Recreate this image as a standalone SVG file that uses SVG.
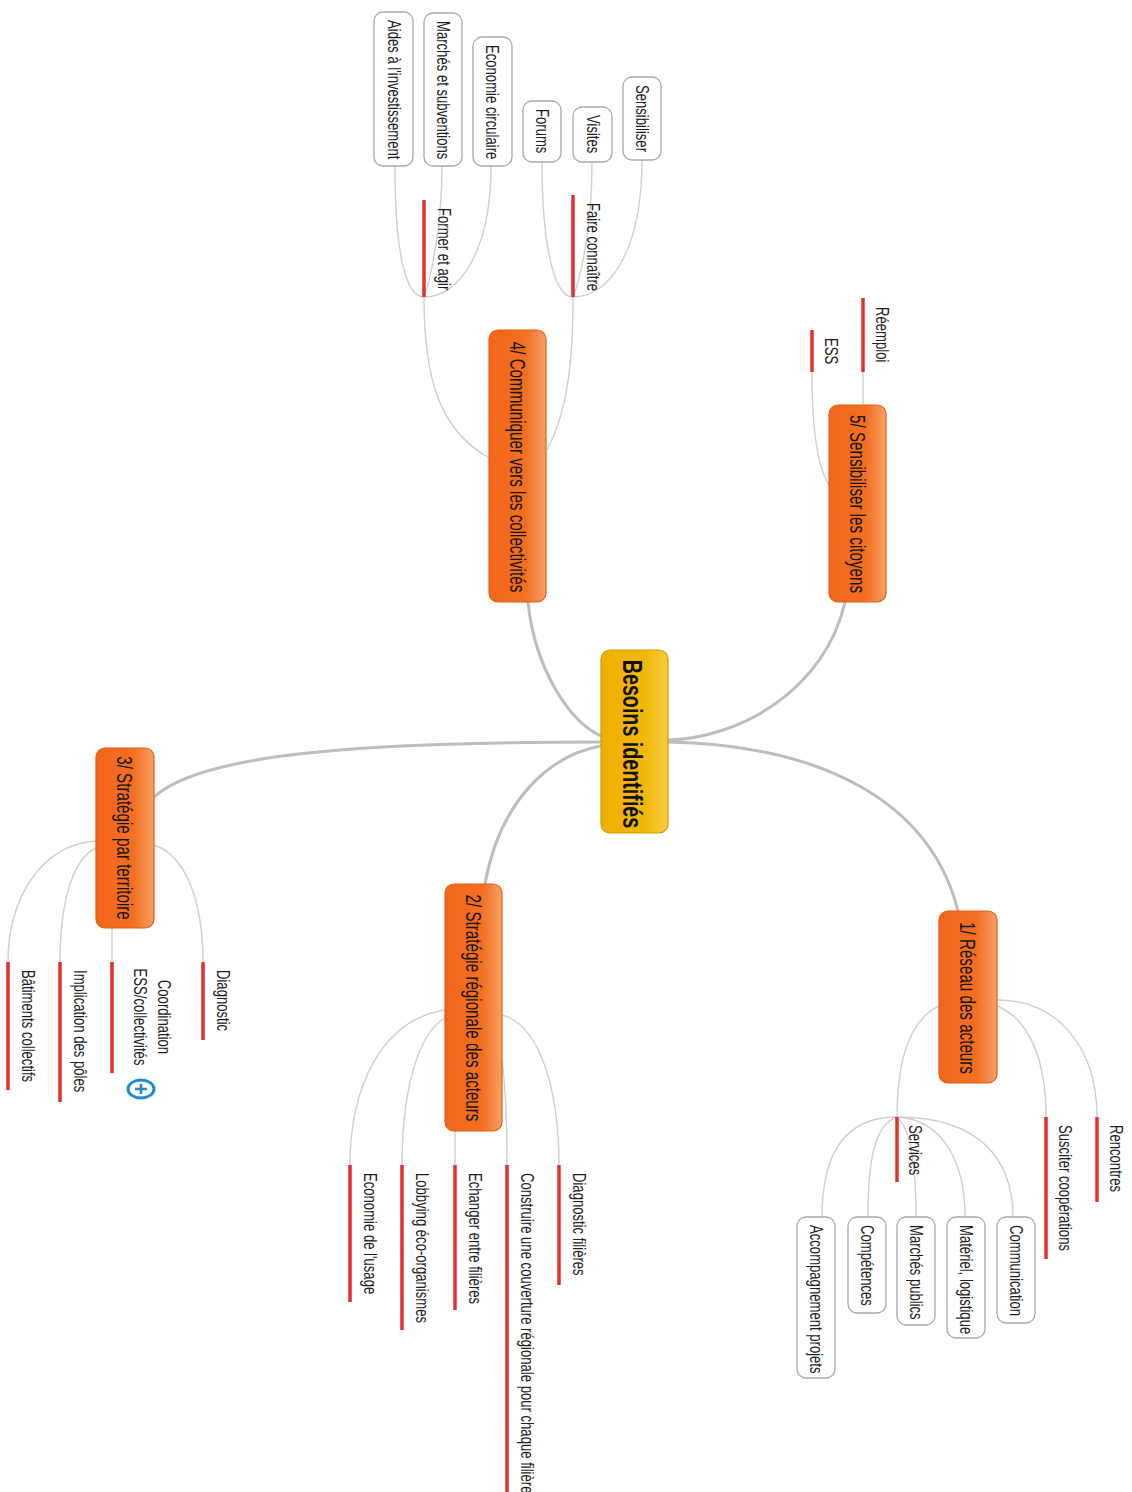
<svg xmlns="http://www.w3.org/2000/svg" width="1132" height="1492" viewBox="0 0 1132 1492">
<defs>
<linearGradient id="gOr" x1="0" y1="0" x2="1" y2="0">
<stop offset="0" stop-color="#f2661a"/>
<stop offset="0.65" stop-color="#f36f22"/>
<stop offset="1" stop-color="#f8a066"/>
</linearGradient>
<linearGradient id="gGo" x1="0" y1="0" x2="1" y2="0">
<stop offset="0" stop-color="#eeb000"/>
<stop offset="0.65" stop-color="#f1b808"/>
<stop offset="1" stop-color="#f8cc40"/>
</linearGradient>
</defs>
<style>
.main{fill:none;stroke:#bdbdbd;stroke-width:3;stroke-linecap:round}
.thin{fill:none;stroke:#cfcfcf;stroke-width:1.4}
.bar{stroke:#e2302c;stroke-width:3.5}
.box{fill:url(#gOr);stroke:#e35f16;stroke-width:1.2}
.ctr{fill:url(#gGo);stroke:#d49c00;stroke-width:1.2}
.bub{fill:#ffffff;stroke:#a9a9a9;stroke-width:1.3}
text{font-family:"Liberation Sans",Arial,sans-serif;fill:#1e1e1e}
.t{font-size:19px}
.bt{font-size:22px;fill:#151515;text-anchor:middle}
.ct{font-size:27px;font-weight:bold;fill:#111;text-anchor:middle}
.m{text-anchor:middle}
</style>
<rect width="1132" height="1492" fill="#ffffff"/>

<g id="connectors">
<path class="main" d="M528,602 C535,670 570,722 601,736"/>
<path class="main" d="M845,602 C825,690 740,738 668,740"/>
<path class="main" d="M601,742 C350,742 200,755 154,797"/>
<path class="main" d="M485,884 C500,800 550,755 601,746"/>
<path class="main" d="M668,742 C820,745 930,800 958,911"/>

<path class="thin" d="M489,458 C440,430 424,380 424,297"/>
<path class="thin" d="M547,450 C568,410 573,360 573,297"/>
<path class="thin" d="M395,166 C395,250 405,297 424,297"/>
<path class="thin" d="M442,166 C442,230 430,280 424,297"/>
<path class="thin" d="M491,166 C491,250 460,297 424,297"/>
<path class="thin" d="M542,162 C542,250 555,297 573,297"/>
<path class="thin" d="M592,162 C592,230 580,280 573,297"/>
<path class="thin" d="M642,160 C642,250 610,297 573,297"/>

<path class="thin" d="M863,372 L863,405"/>
<path class="thin" d="M812,372 C812,430 818,468 829,485"/>

<path class="thin" d="M96,841 C40,845 8,900 8,962"/>
<path class="thin" d="M96,848 C70,860 60,910 60,962"/>
<path class="thin" d="M112,928 L112,962"/>
<path class="thin" d="M154,845 C185,855 203,900 203,962"/>

<path class="thin" d="M445,1010 C380,1020 350,1090 350,1165"/>
<path class="thin" d="M445,1018 C415,1035 402,1100 402,1165"/>
<path class="thin" d="M455,1131 L455,1165"/>
<path class="thin" d="M502,1060 C506,1090 507,1120 507,1165"/>
<path class="thin" d="M502,1015 C540,1025 559,1090 559,1165"/>

<path class="thin" d="M997,1000 C1060,1000 1097,1050 1097,1117"/>
<path class="thin" d="M997,1006 C1030,1020 1046,1060 1046,1117"/>
<path class="thin" d="M939,1006 C910,1020 897,1060 897,1117"/>

<path class="thin" d="M897,1117 C840,1117 822,1160 822,1217"/>
<path class="thin" d="M897,1117 C872,1125 868,1170 868,1217"/>
<path class="thin" d="M897,1117 C912,1130 916,1170 916,1217"/>
<path class="thin" d="M897,1117 C945,1120 965,1165 965,1217"/>
<path class="thin" d="M897,1117 C980,1117 1013,1160 1013,1217"/>
</g>

<g id="center">
<rect class="ctr" x="601" y="650" width="67" height="183" rx="9"/>
<text class="ct" transform="translate(623,744) rotate(90) scale(0.73,1)">Besoins identifiés</text>
</g>

<g id="n4">
<rect class="box" x="489" y="330" width="57" height="272" rx="9"/>
<text class="bt" transform="translate(510,467) rotate(90) scale(0.69,1)">4/ Communiquer vers les collectivités</text>
</g>
<g id="n5">
<rect class="box" x="829" y="405" width="57" height="197" rx="9"/>
<text class="bt" transform="translate(850,504) rotate(90) scale(0.69,1)">5/ Sensibiliser les citoyens</text>
</g>
<g id="n3">
<rect class="box" x="96" y="748" width="58" height="180" rx="9"/>
<text class="bt" transform="translate(117,838) rotate(90) scale(0.69,1)">3/ Stratégie par territoire</text>
</g>
<g id="n2">
<rect class="box" x="445" y="884" width="57" height="247" rx="9"/>
<text class="bt" transform="translate(466,1008) rotate(90) scale(0.69,1)">2/ Stratégie régionale des acteurs</text>
</g>
<g id="n1">
<rect class="box" x="939" y="911" width="58" height="172" rx="9"/>
<text class="bt" transform="translate(960,998) rotate(90) scale(0.69,1)">1/ Réseau des acteurs</text>
</g>

<g id="n4a">
<line class="bar" x1="424" y1="200" x2="424" y2="297"/>
<text class="t" transform="translate(438,208) rotate(90) scale(0.69,1)">Former et agir</text>
</g>
<g id="n4b">
<line class="bar" x1="573" y1="195" x2="573" y2="297"/>
<text class="t" transform="translate(587,203) rotate(90) scale(0.69,1)">Faire connaître</text>
</g>
<g id="n4a1">
<rect class="bub" x="374" y="12" width="39" height="154" rx="9"/>
<text class="t" transform="translate(388,20) rotate(90) scale(0.69,1)">Aides à l'investissement</text>
</g>
<g id="n4a2">
<rect class="bub" x="424" y="13" width="38" height="153" rx="9"/>
<text class="t" transform="translate(437,21) rotate(90) scale(0.69,1)">Marchés et subventions</text>
</g>
<g id="n4a3">
<rect class="bub" x="473" y="37" width="39" height="129" rx="9"/>
<text class="t" transform="translate(486,45) rotate(90) scale(0.69,1)">Economie circulaire</text>
</g>
<g id="n4b1">
<rect class="bub" x="523" y="101" width="38" height="61" rx="9"/>
<text class="t" transform="translate(536,109) rotate(90) scale(0.69,1)">Forums</text>
</g>
<g id="n4b2">
<rect class="bub" x="573" y="107" width="39" height="55" rx="9"/>
<text class="t" transform="translate(587,115) rotate(90) scale(0.69,1)">Visites</text>
</g>
<g id="n4b3">
<rect class="bub" x="623" y="77" width="38" height="83" rx="9"/>
<text class="t" transform="translate(636,85) rotate(90) scale(0.69,1)">Sensibiliser</text>
</g>

<g id="n5a">
<line class="bar" x1="863" y1="298" x2="863" y2="372"/>
<text class="t" transform="translate(876,307) rotate(90) scale(0.69,1)">Réemploi</text>
</g>
<g id="n5b">
<line class="bar" x1="812" y1="330" x2="812" y2="372"/>
<text class="t" transform="translate(825,338) rotate(90) scale(0.69,1)">ESS</text>
</g>

<g id="n3a">
<line class="bar" x1="8" y1="962" x2="8" y2="1090"/>
<text class="t" transform="translate(22,970) rotate(90) scale(0.69,1)">Bâtiments collectifs</text>
</g>
<g id="n3b">
<line class="bar" x1="60" y1="962" x2="60" y2="1102"/>
<text class="t" transform="translate(74,970) rotate(90) scale(0.69,1)">Implication des pôles</text>
</g>
<g id="n3c">
<line class="bar" x1="112" y1="962" x2="112" y2="1073"/>
<text class="t m" transform="translate(158,1017) rotate(90) scale(0.69,1)">Coordination</text>
<text class="t m" transform="translate(134,1017) rotate(90) scale(0.69,1)">ESS/collectivités</text>
<ellipse cx="141" cy="1089" rx="13" ry="9" fill="#ffffff" stroke="#1e8ad2" stroke-width="3"/>
<path d="M135,1089 H147 M141,1084 V1094" stroke="#1e8ad2" stroke-width="2.6"/>
</g>
<g id="n3d">
<line class="bar" x1="203" y1="962" x2="203" y2="1040"/>
<text class="t" transform="translate(217,970) rotate(90) scale(0.69,1)">Diagnostic</text>
</g>

<g id="n2a">
<line class="bar" x1="350" y1="1165" x2="350" y2="1302"/>
<text class="t" transform="translate(364,1173) rotate(90) scale(0.69,1)">Economie de l'usage</text>
</g>
<g id="n2b">
<line class="bar" x1="402" y1="1165" x2="402" y2="1330"/>
<text class="t" transform="translate(416,1173) rotate(90) scale(0.69,1)">Lobbying éco-organismes</text>
</g>
<g id="n2c">
<line class="bar" x1="455" y1="1165" x2="455" y2="1310"/>
<text class="t" transform="translate(469,1173) rotate(90) scale(0.69,1)">Echanger entre filières</text>
</g>
<g id="n2d">
<line class="bar" x1="507" y1="1165" x2="507" y2="1492"/>
<text class="t" transform="translate(521,1173) rotate(90) scale(0.69,1)">Construire une couverture régionale pour chaque filière</text>
</g>
<g id="n2e">
<line class="bar" x1="559" y1="1165" x2="559" y2="1285"/>
<text class="t" transform="translate(573,1173) rotate(90) scale(0.69,1)">Diagnostic filières</text>
</g>

<g id="n1a">
<line class="bar" x1="1097" y1="1117" x2="1097" y2="1202"/>
<text class="t" transform="translate(1110,1125) rotate(90) scale(0.69,1)">Rencontres</text>
</g>
<g id="n1b">
<line class="bar" x1="1046" y1="1117" x2="1046" y2="1259"/>
<text class="t" transform="translate(1059,1125) rotate(90) scale(0.69,1)">Susciter coopérations</text>
</g>
<g id="n1c">
<line class="bar" x1="897" y1="1117" x2="897" y2="1182"/>
<text class="t" transform="translate(909,1125) rotate(90) scale(0.69,1)">Services</text>
</g>
<g id="n1c1">
<rect class="bub" x="797" y="1217" width="38" height="161" rx="9"/>
<text class="t" transform="translate(810,1225) rotate(90) scale(0.69,1)">Accompagnement projets</text>
</g>
<g id="n1c2">
<rect class="bub" x="848" y="1217" width="38" height="96" rx="9"/>
<text class="t" transform="translate(861,1225) rotate(90) scale(0.69,1)">Compétences</text>
</g>
<g id="n1c3">
<rect class="bub" x="897" y="1217" width="38" height="108" rx="9"/>
<text class="t" transform="translate(910,1225) rotate(90) scale(0.69,1)">Marchés publics</text>
</g>
<g id="n1c4">
<rect class="bub" x="947" y="1217" width="38" height="121" rx="9"/>
<text class="t" transform="translate(960,1225) rotate(90) scale(0.69,1)">Matériel, logistique</text>
</g>
<g id="n1c5">
<rect class="bub" x="997" y="1217" width="38" height="106" rx="9"/>
<text class="t" transform="translate(1010,1225) rotate(90) scale(0.69,1)">Communication</text>
</g>
</svg>
